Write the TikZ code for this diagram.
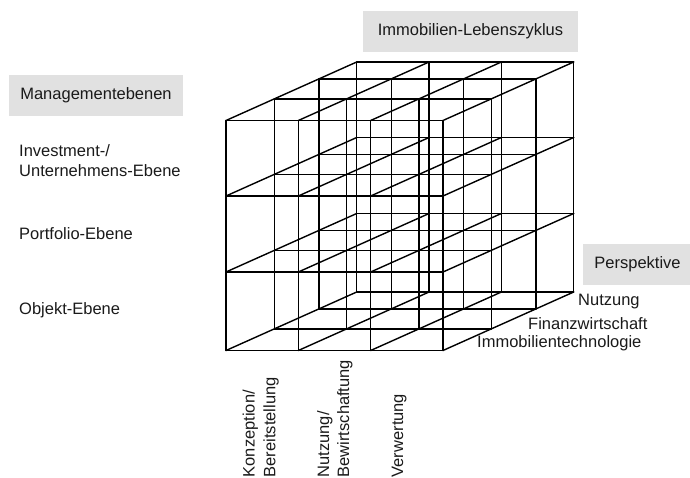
\documentclass[tikz,border=0pt]{standalone}
\usepackage{fontspec}
\setmainfont{Liberation Sans}
\definecolor{boxgray}{HTML}{E1E1E1}
\definecolor{txt}{HTML}{1A1A1A}
\begin{document}
\begin{tikzpicture}[x=1pt,y=-1pt,
  lbl/.style={font=\fontsize{16.5}{19.5}\selectfont, text=txt, inner sep=0pt},
  hdr/.style={lbl, fill=boxgray},
  gridline/.style={line width=1.4pt, draw=black, line cap=round}]
\useasboundingbox (0,0) rectangle (690,478);

% header boxes
\node[hdr, minimum width=174pt, minimum height=41pt] (mgmt) at (96,95.5) {Managementebenen};
\node[hdr, minimum width=215pt, minimum height=41pt] (zyklus) at (470.5,31.5) {Immobilien-Lebenszyklus};
\node[hdr, minimum width=109pt, minimum height=41pt] (persp) at (637.5,264.5) {Perspektive};

% cube lattice: layers (front to back)
\foreach \dx/\up in {0/0,48.3/21.6,93/41.6,130.7/58.5}{
  \foreach \i in {0,...,3}{
    \draw[gridline] (226+72.33*\i+\dx,120.5-\up) -- (226+72.33*\i+\dx,350.5-\up);
  }
  \foreach \yy in {120.5,196,272,350.5}{
    \draw[gridline] (226+\dx,\yy-\up) -- (443+\dx,\yy-\up);
  }
}
% depth edges
\foreach \i in {0,...,3}{
  \foreach \yy in {120.5,196,272,350.5}{
    \draw[gridline] (226+72.33*\i,\yy) -- (226+72.33*\i+130.7,\yy-58.5);
  }
}

% management levels
\node[lbl, anchor=west, align=left] (invest) at (19,160.5) {Investment-/\\Unternehmens-Ebene};
\node[lbl, anchor=west] (portfolio) at (19,234) {Portfolio-Ebene};
\node[lbl, anchor=west] (objekt) at (19,310.5) {Objekt-Ebene};

% perspectives
\node[lbl, anchor=west] (nutzungp) at (578,301.7) {Nutzung};
\node[lbl, anchor=west] (finanz) at (528,324) {Finanzwirtschaft};
\node[lbl, anchor=west] (technik) at (477,343) {Immobilientechnologie};

% life cycle phases
\node[lbl, rotate=90, anchor=base west] (konz) at (254.5,477.5) {Konzeption/};
\node[lbl, rotate=90, anchor=base west] (bereit) at (275.3,477.5) {Bereitstellung};
\node[lbl, rotate=90, anchor=base west] (nutz) at (329,477.5) {Nutzung/};
\node[lbl, rotate=90, anchor=base west] (bewirt) at (349,477.5) {Bewirtschaftung};
\node[lbl, rotate=90, anchor=base west] (verw) at (403,477.5) {Verwertung};
\end{tikzpicture}
\end{document}
